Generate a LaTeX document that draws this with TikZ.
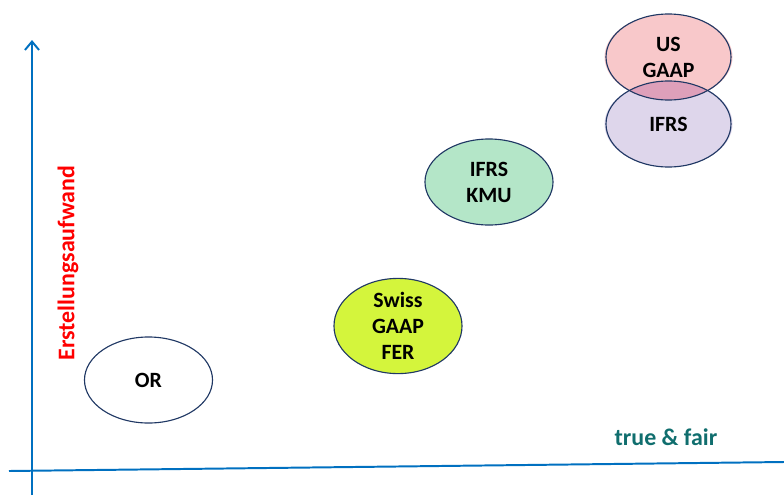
\documentclass[tikz,border=0pt]{standalone}
\usepackage{fontspec}
\setmainfont{Carlito}
\usepackage{tikz}
\usetikzlibrary{positioning, calc, shapes.geometric, arrows.meta}
\definecolor{axisblue}{RGB}{0,112,192}
\definecolor{rimblue}{RGB}{32,56,100}
\definecolor{swissfill}{RGB}{212,245,60}
\definecolor{kmufill}{RGB}{180,230,200}
\definecolor{usfill}{RGB}{248,200,202}
\definecolor{ifrsfill}{RGB}{222,214,235}
\definecolor{mixfill}{RGB}{222,160,186}
\definecolor{fairteal}{RGB}{16,110,110}
\tikzstyle{Axis} = [
%axis lines in blue:
line width = 1.4pt, draw = axisblue
]

\begin{document}
\begin{tikzpicture}[x=0.025cm, y=-0.025cm,
			blob/.style = {ellipse, draw = rimblue, line width = 0.8pt, inner sep = 0pt, minimum width = 3.2cm, minimum height = 2.15cm, align = center, font = \fontsize{15.5}{18.5}\selectfont\bfseries},
			rim/.style = {draw = rimblue, line width = 0.8pt},
			axislabel/.style = {font = \fontsize{17}{20}\selectfont\bfseries},
		]
		\useasboundingbox (0,0) rectangle (784,495);

		\coordinate(O1) at (9,471);
		\coordinate(X1) at (784,462);
		\coordinate(O2) at (32,495);
		\coordinate(Y2) at (32,40);

		\draw[Axis](O1)--(X1);
		\draw[Axis, -{Straight Barb[length=6pt, width=10pt]}](O2)--(Y2);

		\node[axislabel, text = red, rotate = 90](YL) at (68,263){Erstellungsaufwand};
		\node[axislabel, text = fairteal](XL) at (666,437){true \& fair};

		\node[blob](OR) at (148.5,380){OR};
		\node[blob, fill = swissfill](SW) at (398,326){Swiss\\GAAP\\FER};
		\node[blob, fill = kmufill](KMU) at (489,182){IFRS\\KMU};
		\node[blob, draw = none, fill = ifrsfill](IF) at (668.5,124){IFRS};
		\node[blob, draw = none, fill = usfill](US) at (668.5,57){US\\GAAP};

		% darker overlap of the two
		\begin{scope}
			\clip (IF.center) ellipse [x radius = 62.5, y radius = 43];
			\fill[mixfill] (US.center) ellipse [x radius = 62.5, y radius = 43];
		\end{scope}
		\draw[rim] (IF.center) ellipse [x radius = 62.5, y radius = 43];
		\draw[rim] (US.center) ellipse [x radius = 62.5, y radius = 43];

	\end{tikzpicture}
\end{document}
